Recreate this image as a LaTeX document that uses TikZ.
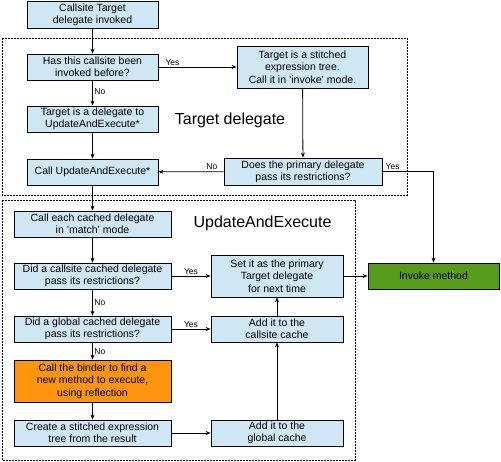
\documentclass[tikz,border=0pt]{standalone}
\usepackage{fontspec}
\setmainfont{Liberation Sans}
\usetikzlibrary{arrows.meta}
\definecolor{boxblue}{HTML}{CFE7F5}
\definecolor{boxorange}{HTML}{FF950E}
\definecolor{boxgreen}{HTML}{579D1C}

\begin{document}
\begin{tikzpicture}[x=1pt, y=-1pt, >={Stealth[length=5pt,width=4pt]},
  bluebox/.style={draw, fill=boxblue, line width=0.8pt, align=center, inner sep=1pt,
    font=\fontsize{10.5}{12.3}\selectfont},
  answer/.style={font=\fontsize{8.5}{10}\selectfont, inner sep=1.5pt},
  frame/.style={draw, line width=0.6pt, dash pattern=on 2pt off 1pt},
  title/.style={font=\fontsize{16}{19}\selectfont}]
\useasboundingbox (0,0) rectangle (501,462);
\path[frame] (2,38) rectangle (407,195);
\path[frame] (2,200) rectangle (355,460);
\node[title] (t1) at (230,120) {Target delegate};
\node[title] (t2) at (262.5,223) {UpdateAndExecute};
\node[bluebox, minimum width=131pt, minimum height=27pt] (1) at (92.5,14.5) {Callsite Target\\delegate invoked};
\node[bluebox, minimum width=131pt, minimum height=26pt] (2) at (92.5,67) {Has this callsite been\\invoked before?};
\node[bluebox, minimum width=131pt, minimum height=26pt] (3) at (92.5,119) {Target is a delegate to\\UpdateAndExecute*};
\node[bluebox, minimum width=131pt, minimum height=26pt] (4) at (92.5,172) {Call UpdateAndExecute*};
\node[bluebox, minimum width=131pt, minimum height=42pt] (5) at (302.5,67) {Target is a stitched\\expression tree.\\Call it in 'invoke' mode.};
\node[bluebox, minimum width=158pt, minimum height=27pt] (6) at (303,171.5) {Does the primary delegate\\pass its restrictions?};
\node[bluebox, minimum width=157pt, minimum height=26pt] (7) at (92.5,224) {Call each cached delegate\\in 'match' mode};
\node[bluebox, minimum width=157pt, minimum height=26pt] (8) at (92.5,276) {Did a callsite cached delegate\\pass its restrictions?};
\node[bluebox, minimum width=157pt, minimum height=26pt] (9) at (92.5,329) {Did a global cached delegate\\pass its restrictions?};
\node[bluebox, fill=boxorange, minimum width=157pt, minimum height=42pt] (10) at (92.5,381) {Call the binder to find a\\new method to execute,\\using reflection};
\node[bluebox, minimum width=157pt, minimum height=26pt] (11) at (92.5,433) {Create a stitched expression\\tree from the result};
\node[bluebox, minimum width=132pt, minimum height=42pt] (12) at (277,276) {Set it as the primary\\Target delegate\\for next time};
\node[bluebox, minimum width=132pt, minimum height=26pt] (13) at (277,329) {Add it to the\\callsite cache};
\node[bluebox, minimum width=132pt, minimum height=26pt] (14) at (277,433) {Add it to the\\global cache};
\node[bluebox, fill=boxgreen, minimum width=131pt, minimum height=26pt] (15) at (433.5,276) {Invoke method};
\path[draw,line width=0.8pt,->] (1) -- (2);
\path[draw,line width=0.8pt,->] (2) -- node[answer, pos=0.18, above] {Yes} (5);
\path[draw,line width=0.8pt,->] (2) -- node[answer, pos=0.46, right] {No} (3);
\path[draw,line width=0.8pt,->] (3) -- (4);
\path[draw,line width=0.8pt,->] (5) -- (6);
\path[draw,line width=0.8pt,->] (6) -- node[answer, pos=0.18, above] {No} (4);
\path[draw,line width=0.8pt,->] (6) -| node[answer, pos=0.1, above] {Yes} (15);
\path[draw,line width=0.8pt,->] (4) -- (7);
\path[draw,line width=0.8pt,->] (7) -- (8);
\path[draw,line width=0.8pt,->] (8) -- node[answer, pos=0.5, above] {Yes} (12);
\path[draw,line width=0.8pt,->] (8) -- node[answer, pos=0.5, right] {No} (9);
\path[draw,line width=0.8pt,->] (9) -- node[answer, pos=0.5, above] {Yes} (13);
\path[draw,line width=0.8pt,->] (9) -- node[answer, pos=0.55, right] {No} (10);
\path[draw,line width=0.8pt,->] (10) -- (11);
\path[draw,line width=0.8pt,->] (11) -- (14);
\path[draw,line width=0.8pt,->] (14) -- (13);
\path[draw,line width=0.8pt,->] (13) -- (12);
\path[draw,line width=0.8pt,->] (12) -- (15);
\end{tikzpicture}
\end{document}
